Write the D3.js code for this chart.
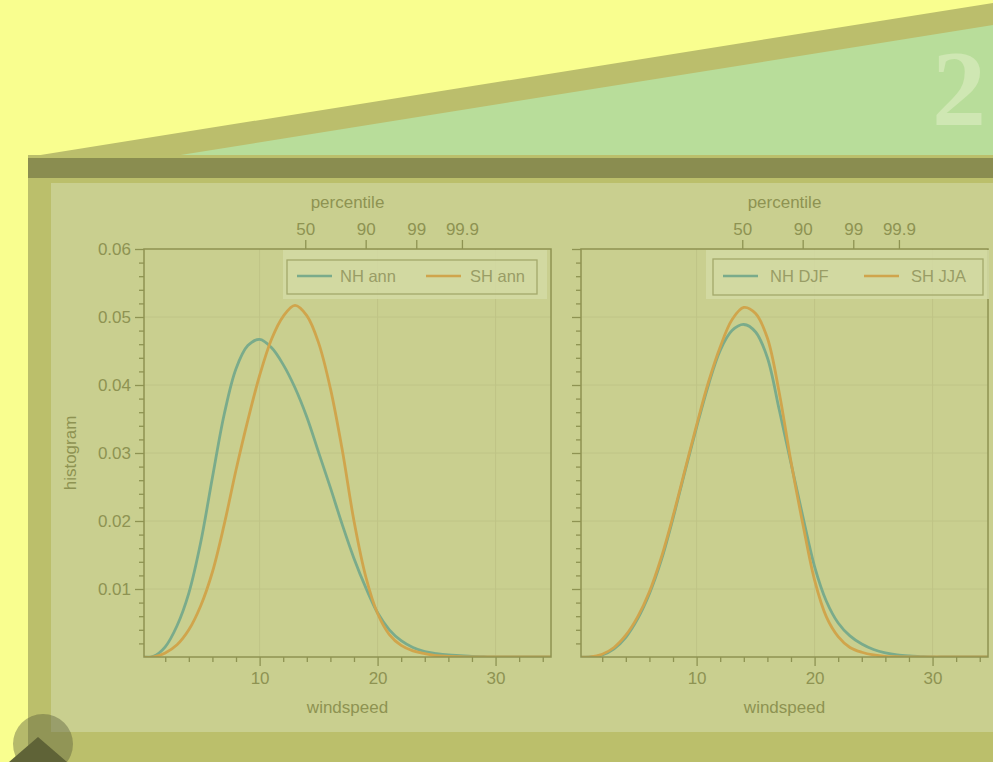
<!DOCTYPE html>
<meta charset="utf-8">
<style>
  body { margin: 0; background: #f9fe8f; overflow: hidden; }
  svg text { font-family: "Liberation Sans", Arial, sans-serif; }
</style>
<script src="https://d3js.org/d3.v7.min.js"></script>
<div id="my_dataviz"></div>
<script>

// windspeed grid the curves were read at
var windspeed = d3.range(0, 36);

// left panel: annual
var nhAnn = [0, 0.0001, 0.0015, 0.0046, 0.0094, 0.0168, 0.0264, 0.0357, 0.0424, 0.0458,
             0.0467, 0.0455, 0.0430, 0.0396, 0.0353, 0.0301, 0.0249, 0.0195, 0.0145, 0.0102,
             0.0065, 0.0040, 0.0024, 0.0014, 0.0008, 0.0005, 0.0003, 0.0002, 0.0001, 0.00005,
             0, 0, 0, 0, 0, 0];
var shAnn = [0, 0, 0.0006, 0.0018, 0.0040, 0.0075, 0.0125, 0.0195, 0.0275, 0.0348,
             0.0414, 0.0467, 0.0501, 0.0517, 0.0502, 0.0462, 0.0395, 0.0305, 0.0200, 0.0118,
             0.0064, 0.0033, 0.0017, 0.0009, 0.0005, 0.0002, 0.0001, 0.00005, 0, 0,
             0, 0, 0, 0, 0, 0];

// right panel: winter seasons
var nhDJF = [0, 0, 0.0003, 0.0012, 0.0029, 0.0056, 0.0093, 0.0142, 0.0204, 0.0272,
             0.0338, 0.0400, 0.0451, 0.0480, 0.0489, 0.0478, 0.0440, 0.0364, 0.0285, 0.0207,
             0.0133, 0.0082, 0.0050, 0.0031, 0.0019, 0.0011, 0.0006, 0.0003, 0.00015, 0.00007,
             0, 0, 0, 0, 0, 0];
var shJJA = [0, 0, 0.0004, 0.0014, 0.0032, 0.0059, 0.0096, 0.0146, 0.0207, 0.0274,
             0.0341, 0.0404, 0.0456, 0.0496, 0.0514, 0.0505, 0.0469, 0.0389, 0.0287, 0.0196,
             0.0113, 0.0059, 0.0030, 0.0014, 0.0007, 0.0003, 0.0001, 0.00005, 0, 0,
             0, 0, 0, 0, 0, 0];

// percentile tick labels on the top axis and the windspeed they sit at
var pctLabels = ["50", "90", "99", "99.9"];
var pctSpeeds = [13.87, 18.99, 23.28, 27.15];

var yTicks = [0.01, 0.02, 0.03, 0.04, 0.05, 0.06];
var xTicks = [10, 20, 30];

var panels = [
  {left: 144, series: [{name: "NH ann", values: nhAnn}, {name: "SH ann", values: shAnn}],
   yLabels: true, legend: {bx: 139, bw: 264, fx: 143, fw: 250, fy: 11, fh: 34, l1: 153, t1: 196, l2: 282, t2: 326}},
  {left: 581, series: [{name: "NH DJF", values: nhDJF}, {name: "SH JJA", values: shJJA}],
   yLabels: false, legend: {bx: 125, bw: 283, fx: 132, fw: 270, fy: 10, fh: 36, l1: 142, t1: 189, l2: 283, t2: 330}}
];

var colors = ["#7aab8b", "#d0a54c"];
var ink = "#8e9352";

var W = 993, H = 762;
var svg = d3.select("#my_dataviz").append("svg")
    .attr("width", W).attr("height", H);

// slide decoration
svg.append("rect").attr("width", W).attr("height", H).attr("fill", "#f9fe8f");
svg.append("polygon").attr("points", "28,157 993,3 993,157").attr("fill", "#bbbe6c");
svg.append("polygon").attr("points", "168,157 993,25 993,157").attr("fill", "#b8dd9a");
svg.append("text").attr("x", 959).attr("y", 125).attr("text-anchor", "middle")
    .style("font-family", "'Liberation Serif', serif").style("font-size", "108px")
    .style("font-weight", "bold").attr("fill", "#cfe7b3").text("2");
svg.append("rect").attr("x", 28).attr("y", 155).attr("width", W - 28).attr("height", H - 155).attr("fill", "#bbbf6b");
svg.append("rect").attr("x", 28).attr("y", 158).attr("width", W - 28).attr("height", 20).attr("fill", "#8a8d50");
svg.append("rect").attr("x", 51).attr("y", 183).attr("width", W - 51).attr("height", 549).attr("fill", "#c9cf8f");

var width = 407, height = 408, plotTop = 249;

var x = d3.scaleLinear().domain([0.2, 34.7]).range([0, width]);
var y = d3.scaleLinear().domain([0, 0.06]).range([height, 0]);

var line = d3.line()
    .x(function(d, i) { return x(windspeed[i]); })
    .y(function(d) { return y(Math.max(0, d)); })
    .curve(d3.curveCatmullRom.alpha(0.5));

panels.forEach(function(p) {
  var g = svg.append("g").attr("transform", "translate(" + p.left + "," + plotTop + ")");

  // grid
  g.append("g").selectAll("line").data(yTicks.slice(0, 5)).enter().append("line")
      .attr("x1", 0).attr("x2", width).attr("y1", y).attr("y2", y)
      .attr("stroke", "#bfc486").attr("stroke-width", 1);
  g.append("g").selectAll("line").data(xTicks).enter().append("line")
      .attr("y1", 0).attr("y2", height).attr("x1", x).attr("x2", x)
      .attr("stroke", "#bfc486").attr("stroke-width", 1);

  // curves (clipped to the plot box)
  var clipId = "clip" + p.left;
  g.append("clipPath").attr("id", clipId).append("rect")
      .attr("x", 0).attr("y", -2).attr("width", width).attr("height", height + 2);
  p.series.forEach(function(s, i) {
    g.append("path").datum(s.values)
        .attr("clip-path", "url(#" + clipId + ")")
        .attr("d", line)
        .attr("fill", "none")
        .attr("stroke", colors[i])
        .attr("stroke-width", 2.8);
  });

  // minor ticks
  var minorX = d3.range(2, 35, 2).filter(function(v) { return v % 10 != 0; });
  var minorY = d3.range(0.002, 0.06, 0.002).filter(function(v) { return Math.abs(v * 100 - Math.round(v * 100)) > 1e-6; });
  g.append("g").attr("transform", "translate(0," + height + ")")
      .call(d3.axisBottom(x).tickValues(minorX).tickSize(5).tickFormat(""));
  g.append("g")
      .call(d3.axisLeft(y).tickValues(minorY).tickSize(5).tickFormat(""));

  // major ticks
  g.append("g").attr("transform", "translate(0," + height + ")")
      .call(d3.axisBottom(x).tickValues(xTicks).tickSize(9).tickPadding(6).tickFormat(d3.format("d")));
  g.append("g")
      .call(d3.axisLeft(y).tickValues(yTicks).tickSize(9).tickPadding(4)
        .tickFormat(p.yLabels ? d3.format(".2f") : ""));

  // top percentile axis
  var topAxis = d3.axisTop(x).tickValues(pctSpeeds).tickSize(9).tickPadding(5)
      .tickFormat(function(d, i) { return pctLabels[i]; });
  g.append("g").call(topAxis);

  g.selectAll(".domain").remove();
  g.selectAll(".tick line").attr("stroke", ink).attr("stroke-width", 1.3);
  g.selectAll(".tick text").attr("fill", ink).style("font-size", "17px");

  // frame
  g.append("rect").attr("width", width).attr("height", height)
      .attr("fill", "none").attr("stroke", ink).attr("stroke-width", 1.5);

  // axis titles
  g.append("text").attr("x", width / 2).attr("y", 464).attr("text-anchor", "middle")
      .attr("fill", ink).style("font-size", "17px").text("windspeed");
  g.append("text").attr("x", width / 2).attr("y", -41).attr("text-anchor", "middle")
      .attr("fill", ink).style("font-size", "17px").text("percentile");
  if (p.yLabels) {
    g.append("text").attr("transform", "translate(-68," + height / 2 + ") rotate(-90)")
        .attr("text-anchor", "middle").attr("fill", ink).style("font-size", "17px").text("histogram");
  }

  // legend
  var L = p.legend;
  g.append("rect").attr("x", L.bx).attr("y", 1).attr("width", L.bw).attr("height", 49)
      .attr("fill", "#d4daa4").attr("opacity", 0.85);
  g.append("rect").attr("x", L.fx).attr("y", L.fy).attr("width", L.fw).attr("height", L.fh)
      .attr("fill", "none").attr("stroke", "#a3a86a").attr("stroke-width", 1.3);
  [[L.l1, L.t1], [L.l2, L.t2]].forEach(function(pos, i) {
    g.append("line").attr("x1", pos[0]).attr("x2", pos[0] + 35).attr("y1", 27).attr("y2", 27)
        .attr("stroke", colors[i]).attr("stroke-width", 2.5);
    g.append("text").attr("x", pos[1]).attr("y", 33).attr("fill", "#999d66")
        .style("font-size", "16.5px").text(p.series[i].name);
  });
});

// bottom strip and nav button
svg.append("rect").attr("x", 28).attr("y", 732).attr("width", W - 28).attr("height", 30).attr("fill", "#bbbf6b");
svg.append("circle").attr("cx", 43).attr("cy", 744).attr("r", 30).attr("fill", "rgba(88,90,58,0.42)");
svg.append("polygon").attr("points", "9,762 38,737 67,762").attr("fill", "#5f6337");

</script>
